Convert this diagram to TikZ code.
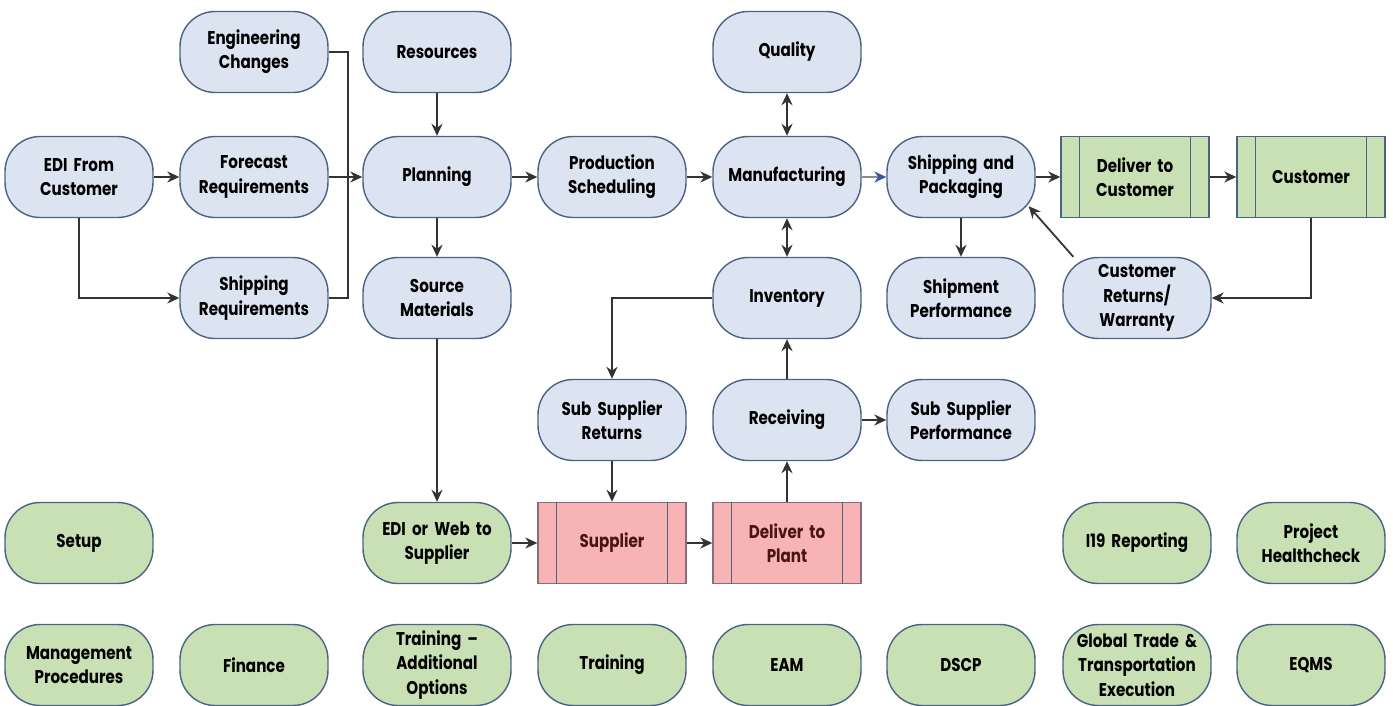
\documentclass[tikz,border=0pt]{standalone}
\usepackage{fontspec}
\setmainfont{Poppins}[FakeStretch=0.82]
\usetikzlibrary{arrows.meta,positioning,calc}
\definecolor{flowblue}{HTML}{DCE4F2}
\definecolor{flowgreen}{HTML}{C9E0B5}
\definecolor{flowred}{HTML}{F8B4B4}
\definecolor{edgeline}{HTML}{4B6382}
\definecolor{redline}{HTML}{8C6A80}
\definecolor{redtext}{HTML}{4A1414}
\definecolor{linkline}{HTML}{333333}
\definecolor{tipblue}{HTML}{3A55A0}

\begin{document}
\begin{tikzpicture}[x=0.02cm,y=-0.02cm,
  box/.style={draw=edgeline,thick,align=center,inner sep=2pt,
    font=\fontsize{10.5}{13.8}\selectfont\bfseries,text=black,
    minimum width=2.96cm,minimum height=1.62cm,text width=2.8cm},
  task/.style={box,rounded corners=0.7cm,fill=flowblue},
  extra/.style={box,rounded corners=0.7cm,fill=flowgreen},
  party/.style={box,fill=flowgreen},
  vendor/.style={box,draw=redline,fill=flowred,text=redtext},
  arrow/.style={-{Stealth[length=2.4mm,width=2.2mm]},line width=1pt,draw=linkline},
  both/.style={{Stealth[length=2.4mm,width=2.2mm]}-{Stealth[length=2.4mm,width=2.2mm]},line width=1pt,draw=linkline}
]
\useasboundingbox (0,0) rectangle (1393,706);

% top rows
\node[task] (engchg) at (254,52) {Engineering\\Changes};
\node[task] (resources) at (437,52) {Resources};
\node[task] (quality) at (787,52) {Quality};
\node[task] (edicust) at (79,177) {EDI From\\Customer};
\node[task] (forecast) at (254,177) {Forecast\\Requirements};
\node[task] (planning) at (437,177) {Planning};
\node[task] (prodsched) at (612,177) {Production\\Scheduling};
\node[task] (manuf) at (787,177) {Manufacturing};
\node[task] (shippack) at (961,177) {Shipping and\\Packaging};
\node[party] (delcust) at (1135,177) {Deliver to\\Customer};
\node[party] (customer) at (1311,177) {Customer};
\node[task] (shipreq) at (254,298) {Shipping\\Requirements};
\node[task] (source) at (437,298) {Source\\Materials};
\node[task] (inventory) at (787,298) {Inventory};
\node[task] (shipperf) at (961,298) {Shipment\\Performance};
\node[task] (custret) at (1137,298) {Customer\\Returns/\\Warranty};
\node[task] (subret) at (612,420) {Sub Supplier\\Returns};
\node[task] (receiving) at (787,420) {Receiving};
\node[task] (subperf) at (961,420) {Sub Supplier\\Performance};

% supplier row
\node[extra] (setup) at (79,543) {Setup};
\node[extra] (ediweb) at (437,543) {EDI or Web to\\Supplier};
\node[vendor] (supplier) at (612,543) {Supplier};
\node[vendor] (delplant) at (787,543) {Deliver to\\Plant};
\node[extra] (ireport) at (1137,543) {I19 Reporting};
\node[extra] (health) at (1311,543) {Project\\Healthcheck};

% bottom row
\foreach \x/\name/\txt in {79/mgmt/{Management\\Procedures},254/finance/Finance,
  437/trainadd/{Training --\\Additional\\Options},612/training/Training,787/eam/EAM,
  961/dscp/DSCP,1137/gtte/{Global Trade \&\\Transportation\\Execution},1311/eqms/EQMS}
  \node[extra] (\name) at (\x,665) {\txt};

% inner bars of the process boxes
\foreach \n in {delcust,customer,supplier,delplant}
  \draw[draw=edgeline] ($(\n.north west)+(0.38cm,0)$) -- ($(\n.south west)+(0.38cm,0)$)
    ($(\n.north east)+(-0.38cm,0)$) -- ($(\n.south east)+(-0.38cm,0)$);

% connectors
\coordinate (merge) at (348,177);
\draw[arrow] (edicust) -- (forecast);
\draw[arrow] (edicust.south) |- (shipreq.west);
\draw[line width=1pt,draw=linkline] (engchg.east) -| (merge);
\draw[line width=1pt,draw=linkline] (shipreq.east) -| (merge);
\draw[arrow] (forecast) -- (planning);
\draw[arrow] (resources) -- (planning);
\draw[arrow] (planning) -- (source);
\draw[arrow] (source) -- (ediweb);
\draw[arrow] (planning) -- (prodsched);
\draw[arrow] (prodsched) -- (manuf);
\draw[line width=1pt,draw=black!45,-{Stealth[length=2.4mm,width=2.2mm,color=tipblue]}] (manuf) -- (shippack);
\draw[both] (quality) -- (manuf);
\draw[both] (manuf) -- (inventory);
\draw[arrow] (shippack) -- (delcust);
\draw[arrow] (delcust) -- (customer);
\draw[arrow] (shippack) -- (shipperf);
\draw[arrow] (customer.south) |- (custret.east);
\draw[arrow] ($(custret.north west)+(11,0)$) -- ($(shippack.south east)+(-7,-12)$);
\draw[arrow] (inventory.west) -| (subret.north);
\draw[arrow] (subret) -- (supplier);
\draw[arrow] (ediweb) -- (supplier);
\draw[arrow] (supplier) -- (delplant);
\draw[arrow] (delplant) -- (receiving);
\draw[arrow] (receiving) -- (inventory);
\draw[arrow] (receiving) -- (subperf);
\end{tikzpicture}
\end{document}
